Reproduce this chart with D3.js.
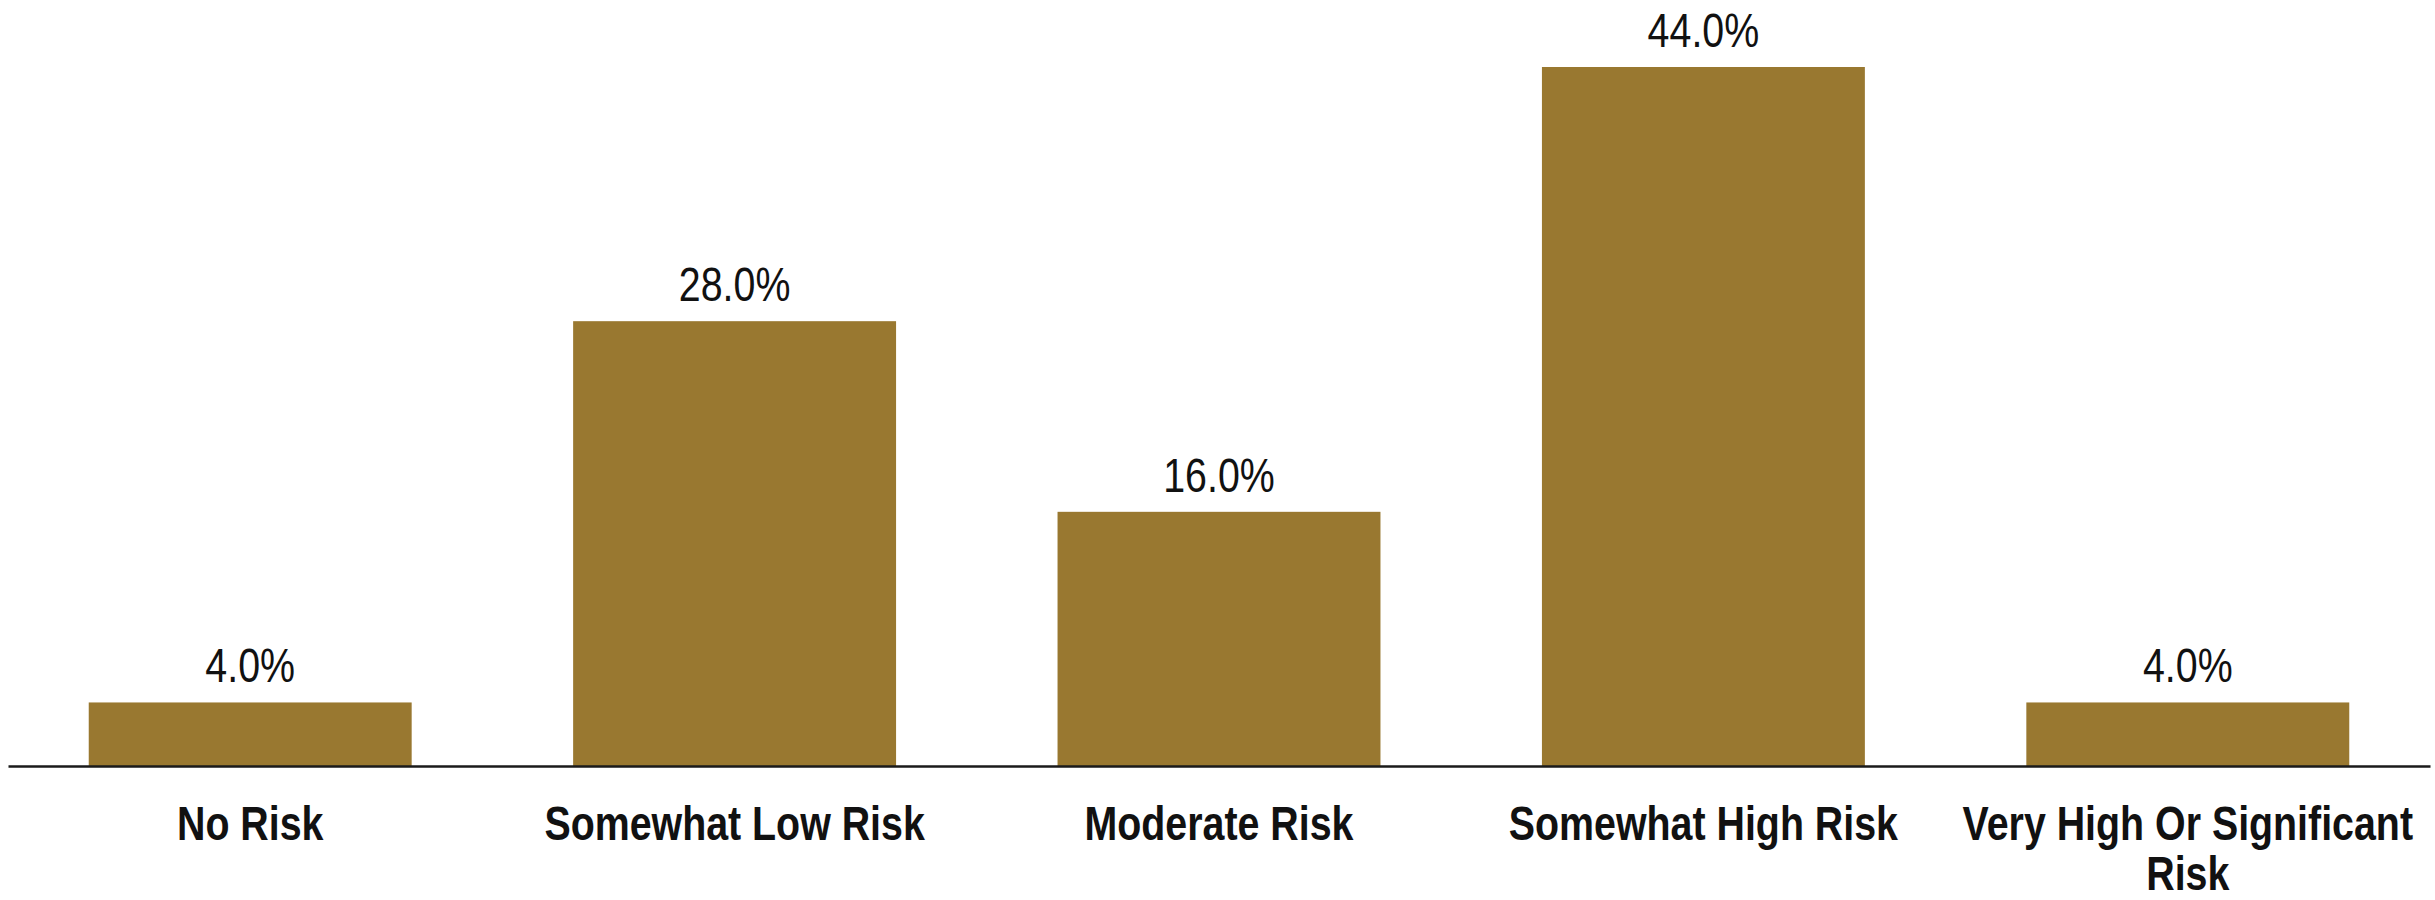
<!DOCTYPE html>
<html>
<head>
<meta charset="utf-8">
<script src="https://cdn.jsdelivr.net/npm/d3@7"></script>
<style>
  html, body { margin: 0; padding: 0; background: #fff; }
  svg { display: block; }
  .val { font-family: "Liberation Sans", Arial, sans-serif; font-size: 48px; fill: #111; }
  .cat { font-family: "Liberation Sans", Arial, sans-serif; font-size: 48px; font-weight: bold; fill: #111; }
</style>
</head>
<body>
<script>
const categories = ["No Risk", "Somewhat Low Risk", "Moderate Risk", "Somewhat High Risk", "Very High Or Significant Risk"];
const values = [4.0, 28.0, 16.0, 44.0, 4.0];

const W = 2435, H = 900;
const NARROW = 0.82;
const svg = d3.select("body").append("svg").attr("width", W).attr("height", H);

const x = d3.scaleBand().domain(categories).range([8, 2430]).paddingInner(1/3).paddingOuter(1/6);
const y = d3.scaleLinear().domain([0, 44]).range([766, 67]);

svg.selectAll("rect.bar").data(values).join("rect")
  .attr("class", "bar")
  .attr("x", (d, i) => x(categories[i]))
  .attr("width", x.bandwidth())
  .attr("y", d => y(d))
  .attr("height", d => y(0) - y(d))
  .attr("fill", "#997830");

svg.selectAll("text.val").data(values).join("text")
  .attr("class", "val")
  .attr("transform", (d, i) => `translate(${x(categories[i]) + x.bandwidth() / 2},${y(d) - 20}) scale(${NARROW},1)`)
  .attr("text-anchor", "middle")
  .text(d => d.toFixed(1) + "%");

const axis = d3.axisBottom(x).tickSize(0).tickPadding(0);
const gx = svg.append("g").attr("transform", `translate(0,${y(0)})`).call(axis);
gx.select(".domain").attr("stroke", "#1a1a1a").attr("stroke-width", 2.5);
gx.selectAll(".tick text").remove();

// category labels with wrapping
const step = x.step();
const tmp = svg.append("text").attr("class", "cat");
function measure(s) { tmp.text(s); return tmp.node().getComputedTextLength() * NARROW; }
categories.forEach(c => {
  const words = c.split(" ");
  const lines = [];
  let cur = "";
  words.forEach(w => {
    const t = cur ? cur + " " + w : w;
    if (measure(t) > step - 10 && cur) { lines.push(cur); cur = w; } else cur = t;
  });
  lines.push(cur);
  const t = svg.append("text").attr("class", "cat")
    .attr("text-anchor", "middle")
    .attr("transform", `translate(${x(c) + x.bandwidth() / 2},840) scale(${NARROW},1)`);
  lines.forEach((l, i) => t.append("tspan").attr("x", 0).attr("dy", i === 0 ? 0 : 50).text(l));
});
tmp.remove();
</script>
</body>
</html>
